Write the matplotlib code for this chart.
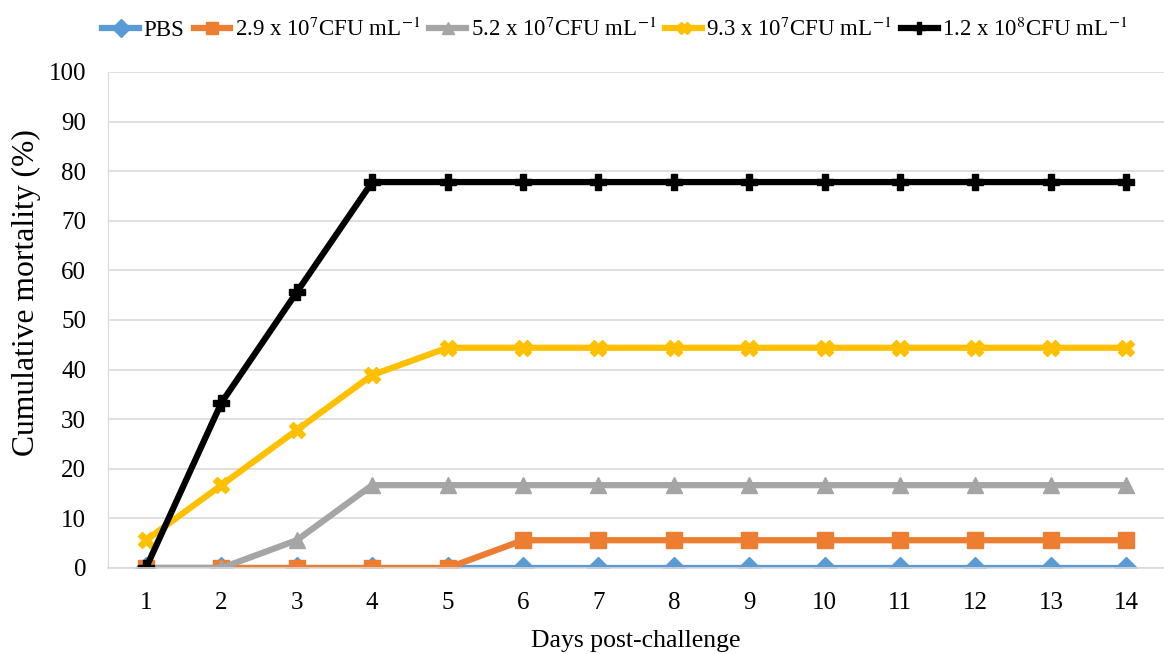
import numpy as np
import matplotlib.pyplot as plt

plt.rcParams['font.family'] = ['Liberation Serif', 'DejaVu Serif']
plt.rcParams['mathtext.fontset'] = 'stix'

days = list(range(1, 15))
pbs = [0] * 14
d29e7 = [0, 0, 0, 0, 0, 5.6, 5.6, 5.6, 5.6, 5.6, 5.6, 5.6, 5.6, 5.6]
d52e7 = [0, 0, 5.6, 16.7, 16.7, 16.7, 16.7, 16.7, 16.7, 16.7, 16.7, 16.7, 16.7, 16.7]
d93e7 = [5.6, 16.7, 27.8, 38.9, 44.4, 44.4, 44.4, 44.4, 44.4, 44.4, 44.4, 44.4, 44.4, 44.4]
d12e8 = [0, 33.3, 55.6, 77.8, 77.8, 77.8, 77.8, 77.8, 77.8, 77.8, 77.8, 77.8, 77.8, 77.8]

labels = ['PBS',
          r'2.9 x 10$^{7}$CFU mL$^{-1}$',
          r'5.2 x 10$^{7}$CFU mL$^{-1}$',
          r'9.3 x 10$^{7}$CFU mL$^{-1}$',
          r'1.2 x 10$^{8}$CFU mL$^{-1}$']
colors = ['#5B9BD5', '#ED7D31', '#A5A5A5', '#FFC000', '#000000']
markers = ['D', 's', '^', 'X', 'P']
series = [pbs, d29e7, d52e7, d93e7, d12e8]

fig = plt.figure(figsize=(11.64, 6.54), dpi=100)
ax = fig.add_axes([0.093, 0.1315, 0.907, 0.7585])

for vals, c, m, lab in zip(series, colors, markers, labels):
    ax.plot(days, vals, color=c, marker=m, markersize=11, linewidth=4.5, label=lab)

ax.set_xlim(0.5, 14.5)
ax.set_ylim(0, 100)
ax.set_yticks(range(0, 101, 10))
ax.set_xticks(days)
ax.tick_params(axis='both', labelsize=18, length=0)
ax.tick_params(axis='y', pad=16)
ax.tick_params(axis='x', pad=17)
ax.grid(axis='y', color='#D9D9D9', linewidth=1.2)
ax.set_axisbelow(True)
for s in ['top', 'right']:
    ax.spines[s].set_visible(False)
ax.spines['left'].set_color('#D9D9D9')
ax.spines['bottom'].set_color('#D9D9D9')
ax.spines['bottom'].set_linewidth(1.2)

ax.set_xlabel('Days post-challenge', fontsize=18.5, labelpad=12)
ax.set_ylabel('Cumulative mortality (%)', fontsize=22.8)
ax.yaxis.set_label_coords(-0.064, 0.556)

ax.legend(loc='center', bbox_to_anchor=(0.48, 1.085), ncol=5, frameon=False,
          fontsize=16.5, handlelength=1.6, columnspacing=0.4, handletextpad=0.2,
          markerscale=0.8, borderpad=0)

fig.savefig('out.png', dpi=100)
